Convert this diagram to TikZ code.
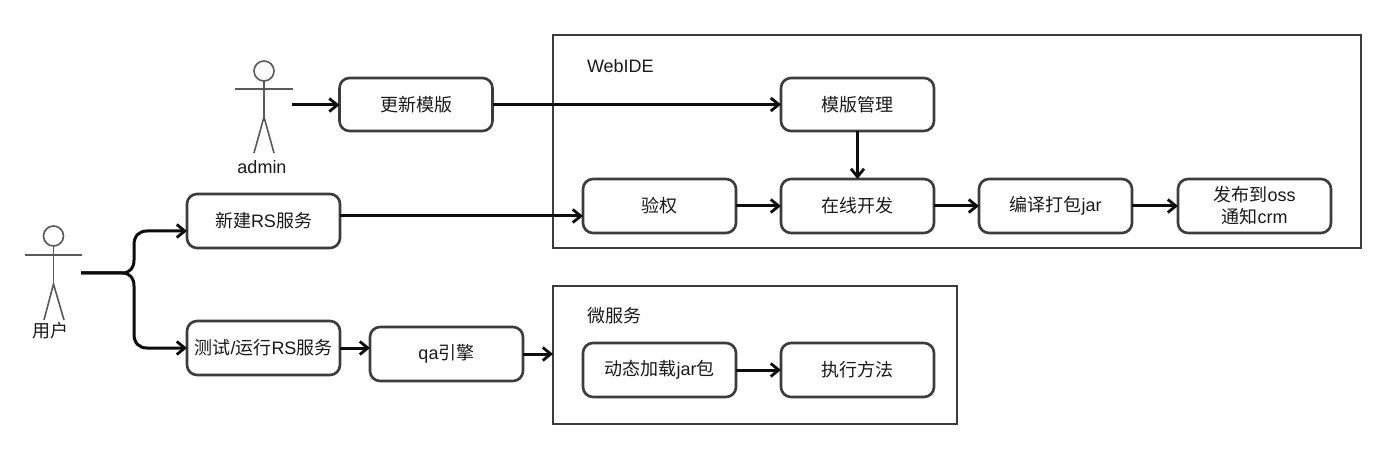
\documentclass[tikz,border=0pt]{standalone}
\usepackage{fontspec}
\setmainfont{Liberation Sans}
\newfontfamily\cjk{Noto Sans CJK SC}
\usetikzlibrary{arrows.meta}
\newcommand{\zh}[1]{{\cjk #1}}
\definecolor{ink}{HTML}{1A1A1A}
\definecolor{edge}{HTML}{3C3C3C}
\tikzset{
  x=1pt,y=-1pt,
  every node/.style={font=\fontsize{18}{22}\selectfont,text=ink,inner sep=0pt,outer sep=0pt},
  stage/.style={draw=edge,line width=2.6pt,rounded corners=10pt,minimum width=153pt,minimum height=53pt,align=center},
  tallstage/.style={stage,minimum height=54pt},
  frame/.style={draw=edge,line width=2.8pt,fill=none},
  flow/.style={draw=black!95,line width=3pt,-{Straight Barb[length=8pt,width=13pt,line width=2.8pt]}},
  limb/.style={draw=edge!85,line width=1.6pt},
  head/.style={circle,draw=edge!85,line width=1.6pt,minimum size=20pt},
}
\begin{document}
\begin{tikzpicture}
\useasboundingbox (0,0) rectangle (1400,454);
\fill[white] (0,0) rectangle (1400,454);

% containers
\node[frame,anchor=north west,minimum width=808pt,minimum height=213pt] (ide) at (553,35) {};
\node[frame,anchor=north west,minimum width=404pt,minimum height=138pt] (micro) at (553,286) {};
\node[anchor=west] (idelabel) at (587,66) {WebIDE};
\node[anchor=west] (microlabel) at (587,316) {\zh{微服务}};

% process boxes
\node[stage] (update) at (416,104.5) {\zh{更新模版}};
\node[stage] (tmpl) at (857.5,104.5) {\zh{模版管理}};
\node[tallstage] (auth) at (659.5,206) {\zh{验权}};
\node[tallstage] (dev) at (857.5,206) {\zh{在线开发}};
\node[tallstage] (build) at (1055.5,206) {\zh{编译打包}jar};
\node[tallstage] (pub) at (1254.5,206) {\zh{发布到}oss\\\zh{通知}crm};
\node[tallstage] (create) at (263.5,221) {\zh{新建}RS\zh{服务}};
\node[tallstage] (test) at (263.5,348) {\zh{测试}/\zh{运行}RS\zh{服务}};
\node[tallstage] (qa) at (446.5,354) {qa\zh{引擎}};
\node[tallstage] (load) at (659.5,370) {\zh{动态加载}jar\zh{包}};
\node[tallstage] (exec) at (857.5,370) {\zh{执行方法}};

% admin figure
\node[head] (adminhead) at (264,71) {};
\coordinate (adminl) at (235,89);
\coordinate (adminr) at (293,89);
\coordinate (adminhip) at (264,117);
\coordinate (adminfootl) at (254,153);
\coordinate (adminfootr) at (274,153);
\draw[limb] (adminhead.south) -- (adminhip);
\draw[limb] (adminl) -- (adminr);
\draw[limb] (adminfootl) -- (adminhip) -- (adminfootr);
\node (adminname) at (262,167) {admin};

% user figure
\node[head] (userhead) at (53.5,236) {};
\coordinate (userl) at (25,255);
\coordinate (userr) at (82,255);
\coordinate (userhip) at (53.5,284);
\coordinate (userfootl) at (44,320);
\coordinate (userfootr) at (64,320);
\draw[limb] (userhead.south) -- (userhip);
\draw[limb] (userl) -- (userr);
\draw[limb] (userfootl) -- (userhip) -- (userfootr);
\node (username) at (50,331) {\zh{用户}};

% connectors
\coordinate (adminout) at (292,105);
\coordinate (userout) at (81,273);
\draw[flow] (adminout) -- (update.west |- adminout);
\draw[flow] (update.east) -- (tmpl.west);
\draw[flow] (tmpl.south) -- (dev.north);
\draw[flow] ([yshift=5pt]create.east) -- ([yshift=-10pt]auth.west);
\draw[flow] (auth) -- (dev);
\draw[flow] (dev) -- (build);
\draw[flow] (build) -- (pub);
\draw[flow] (test.east) -- (qa.west |- test.east);
\draw[flow] (qa.east) -- (micro.west |- qa.east);
\draw[flow] (load) -- (exec);
\draw[flow] (userout) -- (122,273) .. controls (130,273) and (134,268) .. (134,260) -- (134,245)
  .. controls (134,236) and (139,231) .. (147,231) -- ([yshift=-10pt]create.west);
\draw[flow] (userout) -- (122,273) .. controls (130,273) and (134,278) .. (134,286) -- (134,334)
  .. controls (134,343) and (139,348) .. (147,348) -- (test.west);
\end{tikzpicture}
\end{document}
